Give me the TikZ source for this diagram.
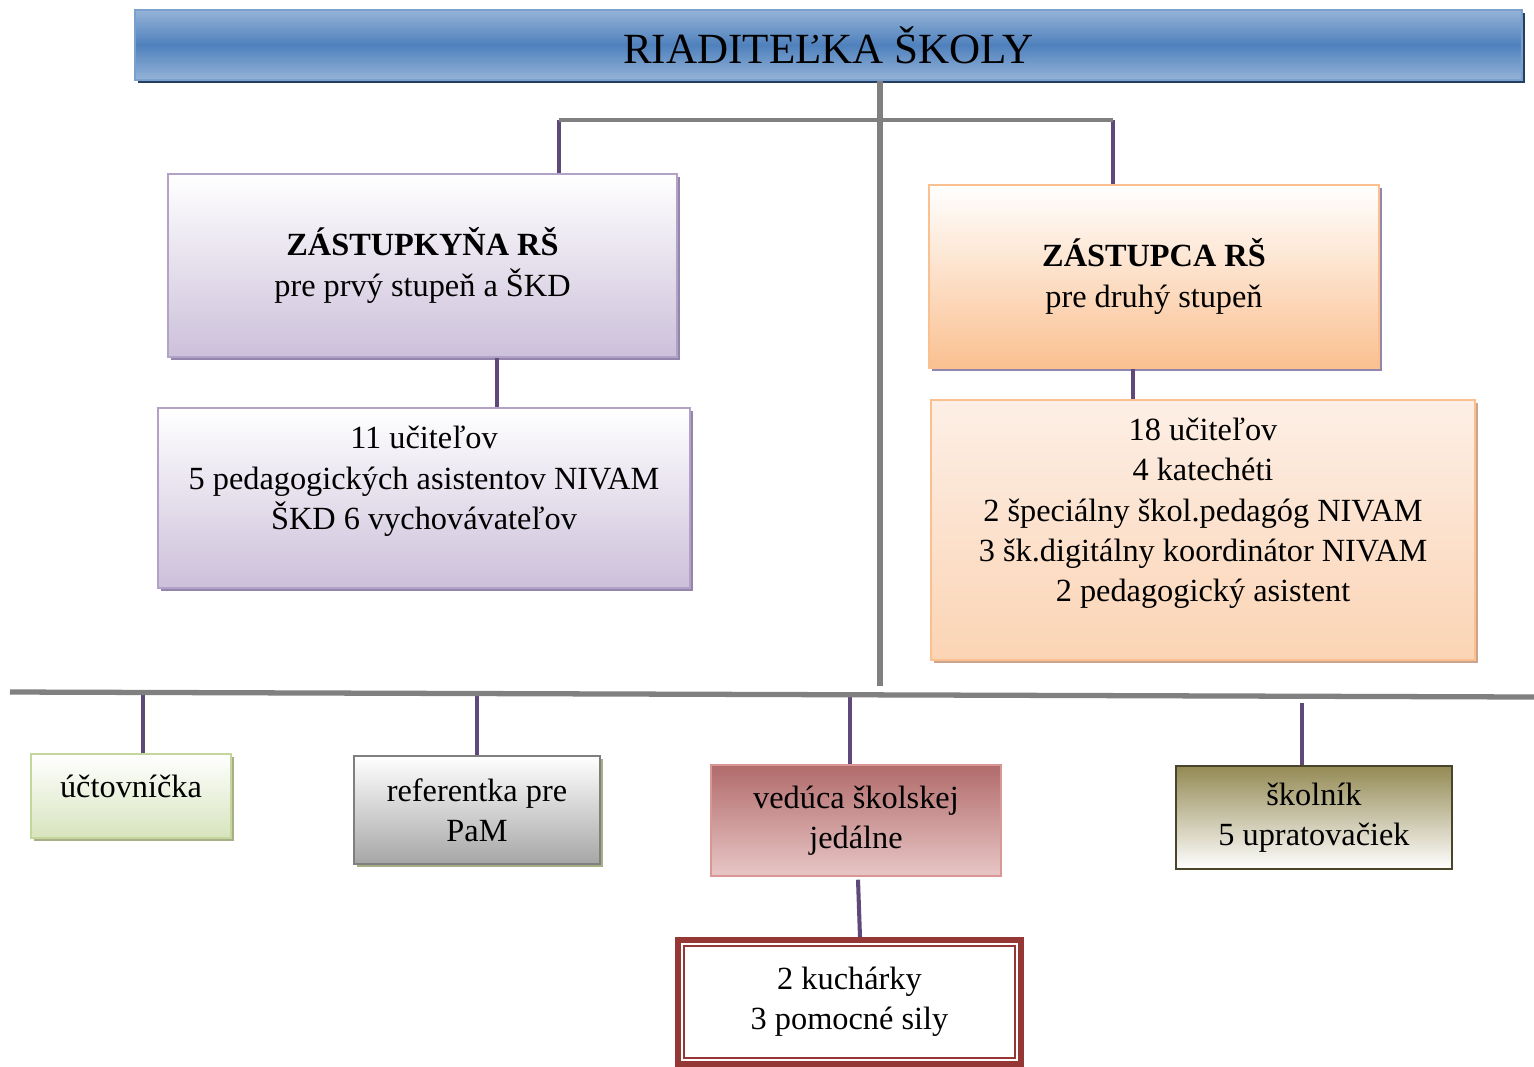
\documentclass[tikz,border=0pt]{standalone}
\usepackage{fontspec}
\setmainfont{Liberation Serif}
\usetikzlibrary{shadows}
\definecolor{blueLight}{HTML}{95B3D7}
\definecolor{blueMid}{HTML}{4F81BD}
\definecolor{headBorder}{HTML}{7BA0CD}
\definecolor{headShadow}{HTML}{243F60}
\definecolor{lilac}{HTML}{CCC0DA}
\definecolor{lilacBorder}{HTML}{B3A2C7}
\definecolor{lilacShadow}{HTML}{9485AD}
\definecolor{peach}{HTML}{FAC090}
\definecolor{peachLight}{HTML}{FDEFE6}
\definecolor{peachMid}{HTML}{FBD4B4}
\definecolor{peachShadow}{HTML}{C8A58C}
\definecolor{sage}{HTML}{D7E4BD}
\definecolor{sageBorder}{HTML}{C3D69B}
\definecolor{oliveShadow}{HTML}{A9AE86}
\definecolor{stone}{HTML}{A6A6A6}
\definecolor{stoneBorder}{HTML}{7F7F7F}
\definecolor{rose}{HTML}{B26B6B}
\definecolor{roseLight}{HTML}{E8C6C6}
\definecolor{roseBorder}{HTML}{D99694}
\definecolor{olive}{HTML}{948A54}
\definecolor{oliveBorder}{HTML}{4A452A}
\definecolor{cookRed}{HTML}{953735}
\definecolor{linkPurple}{HTML}{5F497A}
\definecolor{trunkGray}{HTML}{808080}

\begin{document}
\begin{tikzpicture}[x=0.02cm, y=-0.02cm,
    box/.style = {draw, rectangle, inner sep=0pt, align=center, line width=0.8pt,
                  font=\fontsize{18.4}{23}\selectfont},
    shad/.style = {drop shadow={shadow xshift=0.06cm, shadow yshift=-0.06cm, opacity=1, fill=#1}},
    link/.style = {draw=linkPurple, line width=2.3pt},
    trunk/.style = {draw=trunkGray, line width=3.4pt}]
    \useasboundingbox (0,0) rectangle (1534,1066);

    \node[box, shad=headShadow, draw=headBorder, top color=blueLight, bottom color=blueLight,
          middle color=blueMid, minimum width=27.74cm, minimum height=1.4cm,
          font=\fontsize{24.5}{28}\selectfont] (head) at (828.5,45) {RIADITEĽKA ŠKOLY};

    \node[box, shad=lilacShadow, draw=lilacBorder, top color=white, bottom color=lilac,
          minimum width=10.18cm, minimum height=3.66cm] (dep1) at (422.5,265.5)
          {\textbf{ZÁSTUPKYŇA RŠ}\\pre prvý stupeň a ŠKD};
    \node[box, shad=lilacShadow, draw=lilacBorder, top color=white, bottom color=lilac,
          minimum width=10.64cm, minimum height=3.6cm] (staff1) at (424,498)
          {11 učiteľov\\5 pedagogických asistentov NIVAM\\ŠKD 6 vychovávateľov\\ \mbox{}};

    \node[box, shad=lilacShadow, draw=peach, top color=white, bottom color=peach,
          minimum width=9cm, minimum height=3.66cm] (dep2) at (1154,276.5)
          {\textbf{ZÁSTUPCA RŠ}\\pre druhý stupeň};
    \node[box, shad=peachShadow, draw=peach, top color=peachLight, bottom color=peachMid,
          minimum width=10.88cm, minimum height=5.2cm] (staff2) at (1203,530)
          {18 učiteľov\\4 katechéti\\2 špeciálny škol.pedagóg NIVAM\\3 šk.digitálny koordinátor NIVAM\\2 pedagogický asistent\\ \mbox{}};

    \node[box, shad=oliveShadow, draw=sageBorder, top color=white, bottom color=sage,
          minimum width=4cm, minimum height=1.68cm] (acct) at (131,796)
          {účtovníčka\\[-11.5pt]\mbox{}};
    \node[box, shad=oliveShadow, draw=stoneBorder, top color=white, bottom color=stone,
          minimum width=4.92cm, minimum height=2.16cm] (pam) at (477,810)
          {referentka pre\\PaM};
    \node[box, draw=roseBorder, top color=rose, bottom color=roseLight,
          minimum width=5.8cm, minimum height=2.22cm] (canteen) at (856,820.5)
          {vedúca školskej\\jedálne};
    \node[box, draw=oliveBorder, top color=olive, bottom color=white,
          minimum width=5.52cm, minimum height=2.06cm] (janitor) at (1314,817.5)
          {školník\\5 upratovačiek};
    \node[box, draw=cookRed, line width=3.2pt, fill=white,
          minimum width=6.86cm, minimum height=2.48cm] (cook) at (849.5,1002)
          {2 kuchárky\\3 pomocné sily};
    \draw[cookRed, line width=1.3pt] ([xshift=0.18cm,yshift=-0.18cm]cook.north west)
          rectangle ([xshift=-0.18cm,yshift=0.18cm]cook.south east);

    \coordinate (fork1) at (559,120);
    \coordinate (fork2) at (1113,120);
    \coordinate (hub) at (880,120);
    \coordinate (foot) at (880,686);
    \coordinate (busL) at (10,692);
    \coordinate (busR) at (1534,697);
    \coordinate (b1) at (143,693);
    \coordinate (b2) at (477,693);
    \coordinate (b3) at (850,694);
    \coordinate (b4) at (1302,703);

    \draw[link] (fork1) -- (fork1 |- dep1.north);
    \draw[link] (fork2) -- (fork2 |- dep2.north);
    \draw[link] ([xshift=1.49cm]dep1.south) -- ([xshift=1.49cm]dep1.south |- staff1.north);
    \draw[link] ([xshift=-0.42cm]dep2.south) -- ([xshift=-0.42cm]dep2.south |- staff2.north);
    \draw[link] (b1) -- (b1 |- acct.north);
    \draw[link] (b2) -- (b2 |- pam.north);
    \draw[link] (b3) -- (b3 |- canteen.north);
    \draw[link] (b4) -- (b4 |- janitor.north);
    \draw[link] ([xshift=0.04cm,yshift=-0.06cm]canteen.south) -- ([xshift=0.21cm]cook.north);

    \draw[trunk] (head.south -| hub) -- (foot);
    \draw[trunk, line width=2.8pt] (fork1) -- (fork2);
    \draw[trunk, line width=3pt] (busL) -- (busR);
\end{tikzpicture}
\end{document}
